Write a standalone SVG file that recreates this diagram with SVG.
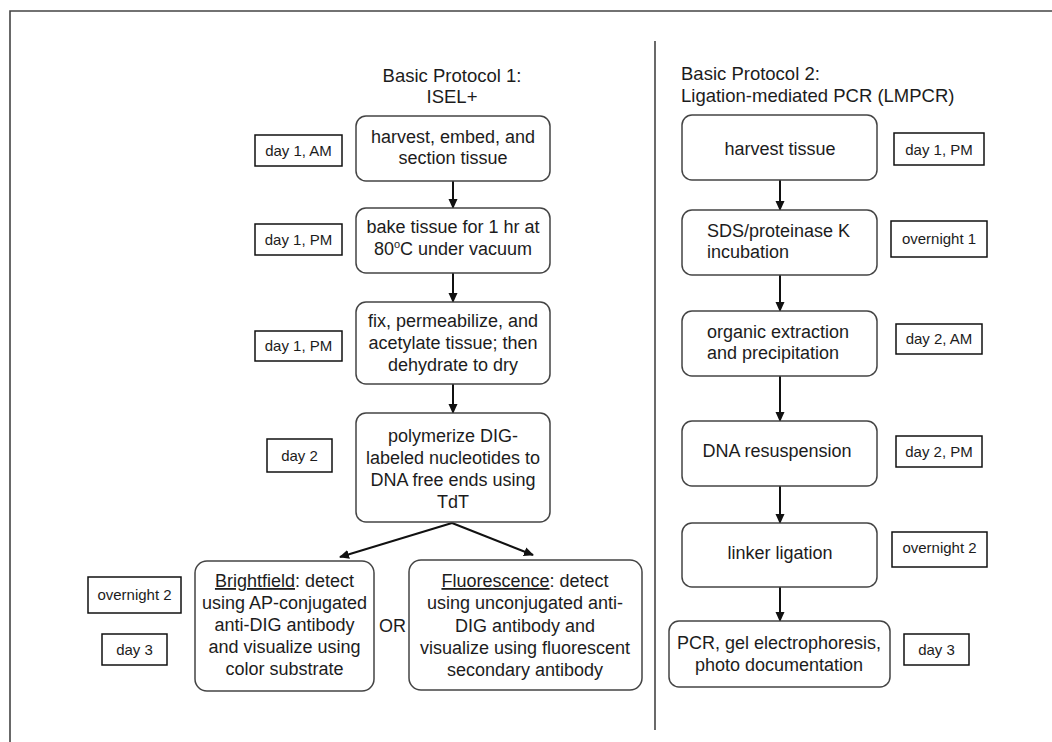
<svg xmlns="http://www.w3.org/2000/svg" width="1052" height="742" viewBox="0 0 1052 742">
<style>
text{font-family:"Liberation Sans",Arial,sans-serif;fill:#1c1c1c}
.t{font-size:18px;text-anchor:middle}
.tl{font-size:18px}
.h{font-size:18.5px}
.d{font-size:15px;text-anchor:middle}
.box{fill:#fff;stroke:#444;stroke-width:1.5}
.lab{fill:#fff;stroke:#111;stroke-width:1.5}
.frame{stroke:#444;stroke-width:1.6;fill:none}
.arr{stroke:#111;stroke-width:2;fill:none;marker-end:url(#ah)}
.u{text-decoration:underline}
</style>
<defs>
<marker id="ah" markerUnits="userSpaceOnUse" markerWidth="10" markerHeight="10" refX="9" refY="5" orient="auto">
<path d="M0,0.5 L10,5 L0,9.5 Z" fill="#111"/>
</marker>
</defs>
<rect width="1052" height="742" fill="#fff"/>
<g id="frame">
<path class="frame" d="M10,742 V11 H1052"/>
<line class="frame" x1="655" y1="41" x2="655" y2="730"/>
</g>
<g id="titles">
<text class="h" x="452" y="82" text-anchor="middle">Basic Protocol 1:</text>
<text class="h" x="452" y="103" text-anchor="middle">ISEL+</text>
<text class="h" x="681" y="80">Basic Protocol 2:</text>
<text class="h" x="681" y="102">Ligation-mediated PCR (LMPCR)</text>
</g>
<g id="connectors">
<line class="arr" x1="453" y1="181" x2="453" y2="208"/>
<line class="arr" x1="453" y1="273" x2="453" y2="302"/>
<line class="arr" x1="453" y1="384" x2="453" y2="413"/>
<line class="arr" x1="452" y1="523" x2="340" y2="557"/>
<line class="arr" x1="452" y1="523" x2="533" y2="555"/>
<line class="arr" x1="780" y1="180" x2="780" y2="210"/>
<line class="arr" x1="780" y1="275" x2="780" y2="311"/>
<line class="arr" x1="780" y1="376" x2="780" y2="421"/>
<line class="arr" x1="780" y1="486" x2="780" y2="523"/>
<line class="arr" x1="780" y1="587" x2="780" y2="621"/>
</g>
<g id="n1">
<rect class="box" x="356" y="116" width="194" height="65" rx="10"/>
<text class="t" x="453" y="143">harvest, embed, and</text>
<text class="t" x="453" y="164">section tissue</text>
</g>
<g id="n2">
<rect class="box" x="356" y="208" width="194" height="65" rx="10"/>
<text class="t" x="453" y="233">bake tissue for 1 hr at</text>
<text class="t" x="453" y="255">80<tspan font-size="11" dy="-7">o</tspan><tspan dy="7">C under vacuum</tspan></text>
</g>
<g id="n3">
<rect class="box" x="356" y="302" width="194" height="82" rx="10"/>
<text class="t" x="453" y="327">fix, permeabilize, and</text>
<text class="t" x="453" y="349">acetylate tissue; then</text>
<text class="t" x="453" y="371">dehydrate to dry</text>
</g>
<g id="n4">
<rect class="box" x="356" y="413" width="194" height="109" rx="10"/>
<text class="t" x="453" y="442">polymerize DIG-</text>
<text class="t" x="453" y="464">labeled nucleotides to</text>
<text class="t" x="453" y="486">DNA free ends using</text>
<text class="t" x="453" y="508">TdT</text>
</g>
<g id="n5">
<rect class="box" x="195" y="561" width="179" height="130" rx="12"/>
<text class="t" x="284.5" y="587"><tspan class="u">Brightfield</tspan>: detect</text>
<text class="t" x="284.5" y="609">using AP-conjugated</text>
<text class="t" x="284.5" y="631">anti-DIG antibody</text>
<text class="t" x="284.5" y="653">and visualize using</text>
<text class="t" x="284.5" y="675">color substrate</text>
</g>
<g id="or">
<text class="t" x="392.5" y="632">OR</text>
</g>
<g id="n6">
<rect class="box" x="409" y="560" width="233" height="130" rx="12"/>
<text class="t" x="525" y="587"><tspan class="u">Fluorescence</tspan>: detect</text>
<text class="t" x="525" y="609">using unconjugated anti-</text>
<text class="t" x="525" y="632">DIG antibody and</text>
<text class="t" x="525" y="654">visualize using fluorescent</text>
<text class="t" x="525" y="676">secondary antibody</text>
</g>
<g id="l1"><rect class="lab" x="255" y="135" width="87" height="31"/><text class="d" x="298.5" y="156">day 1, AM</text></g>
<g id="l2"><rect class="lab" x="255" y="224" width="87" height="31"/><text class="d" x="298.5" y="245">day 1, PM</text></g>
<g id="l3"><rect class="lab" x="255" y="331" width="87" height="30"/><text class="d" x="298.5" y="351">day 1, PM</text></g>
<g id="l4"><rect class="lab" x="267" y="439" width="65" height="33"/><text class="d" x="299.5" y="461">day 2</text></g>
<g id="l5"><rect class="lab" x="88" y="577" width="93" height="36"/><text class="d" x="134.5" y="600">overnight 2</text></g>
<g id="l6"><rect class="lab" x="102" y="634" width="65" height="31"/><text class="d" x="134.5" y="655">day 3</text></g>
<g id="m1">
<rect class="box" x="682" y="115" width="195" height="65" rx="10"/>
<text class="t" x="780" y="155">harvest tissue</text>
</g>
<g id="m2">
<rect class="box" x="682" y="210" width="195" height="65" rx="10"/>
<text class="tl" x="707" y="237">SDS/proteinase K</text>
<text class="tl" x="707" y="258">incubation</text>
</g>
<g id="m3">
<rect class="box" x="682" y="311" width="195" height="65" rx="10"/>
<text class="tl" x="707" y="338">organic extraction</text>
<text class="tl" x="707" y="359">and precipitation</text>
</g>
<g id="m4">
<rect class="box" x="682" y="421" width="195" height="65" rx="10"/>
<text class="t" x="777" y="457">DNA resuspension</text>
</g>
<g id="m5">
<rect class="box" x="682" y="523" width="195" height="64" rx="10"/>
<text class="t" x="780" y="559">linker ligation</text>
</g>
<g id="m6">
<rect class="box" x="669" y="621" width="221" height="66" rx="10"/>
<text class="t" x="779" y="649">PCR, gel electrophoresis,</text>
<text class="t" x="779" y="671">photo documentation</text>
</g>
<g id="r1"><rect class="lab" x="894" y="133" width="90" height="32"/><text class="d" x="939" y="155">day 1, PM</text></g>
<g id="r2"><rect class="lab" x="891" y="221" width="96" height="36"/><text class="d" x="939" y="244">overnight 1</text></g>
<g id="r3"><rect class="lab" x="896" y="324" width="86" height="30"/><text class="d" x="939" y="344">day 2, AM</text></g>
<g id="r4"><rect class="lab" x="896" y="436" width="86" height="31"/><text class="d" x="939" y="457">day 2, PM</text></g>
<g id="r5"><rect class="lab" x="892" y="532" width="95" height="35"/><text class="d" x="939.5" y="553">overnight 2</text></g>
<g id="r6"><rect class="lab" x="904" y="634" width="65" height="31"/><text class="d" x="936.5" y="655">day 3</text></g>
</svg>
